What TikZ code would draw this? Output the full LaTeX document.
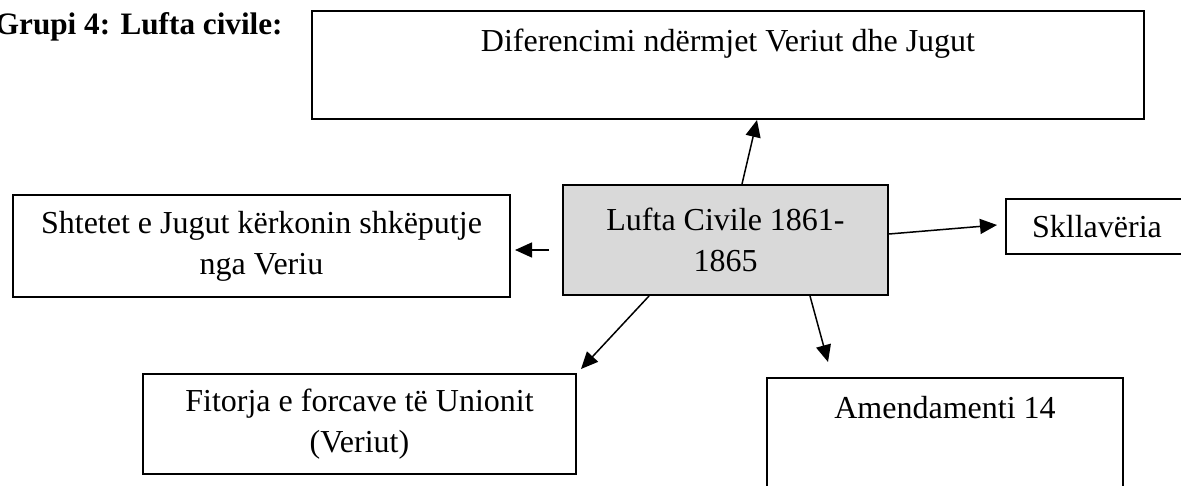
\documentclass[tikz,border=0pt]{standalone}
\usepackage{fontspec}
\setmainfont{Liberation Serif}
\usetikzlibrary{arrows.meta,calc}
\definecolor{boxgray}{HTML}{D9D9D9}
\begin{document}
\begin{tikzpicture}[x=0.5pt,y=-0.5pt,
  every node/.style={font=\fontsize{16}{20.5}\selectfont},
  box/.style={draw=black,line width=1pt,rectangle,inner xsep=0pt,inner ysep=0pt,align=center,anchor=north west},
  arr/.style={line width=0.75pt,-{Triangle[length=8.5pt,width=7.5pt]}}]
\useasboundingbox (0,0) rectangle (1181,486);

\node[anchor=base east,font=\fontsize{15.6}{20}\selectfont\bfseries,inner sep=0pt] (title) at (283,35) {Grupi 4: Lufta civile:};

\node[box,minimum width=416pt,text height=20.5pt,text depth=33.5pt] (top) at (311,10) {Diferencimi ndërmjet Veriut dhe Jugut};

\node[box,minimum width=248.5pt,minimum height=51pt] (left) at (12,194) {Shtetet e Jugut kërkonin shkëputje\\nga Veriu};

\node[box,fill=boxgray,minimum width=162.5pt,minimum height=55pt] (c) at (562,184) {Lufta Civile 1861-\\1865};

\node[box,minimum width=91pt,minimum height=27.5pt] (sk) at (1005,198) {Skllavëria};

\node[box,minimum width=216.5pt,minimum height=50pt] (fit) at (142,373) {Fitorja e forcave të Unionit\\(Veriut)};

\node[box,minimum width=178pt,text height=20pt,text depth=75pt] (am) at (766,377) {Amendamenti 14};

\draw[arr] ($(c.north west)+(180,0)$) -- ($(top.south west)+(446,0)$);
\draw[arr] ($(c.west)+(-13,10)$) -- ($(left.east)+(4,4)$);
\draw[arr] ($(c.east)+(0,-6)$) -- ($(sk.west)+(-8,-1.5)$);
\draw[arr] ($(c.south west)+(87,0)$) -- ($(fit.north east)+(4,-4)$);
\draw[arr] ($(c.south west)+(248,0)$) -- ($(am.north west)+(62,-15)$);
\end{tikzpicture}
\end{document}
